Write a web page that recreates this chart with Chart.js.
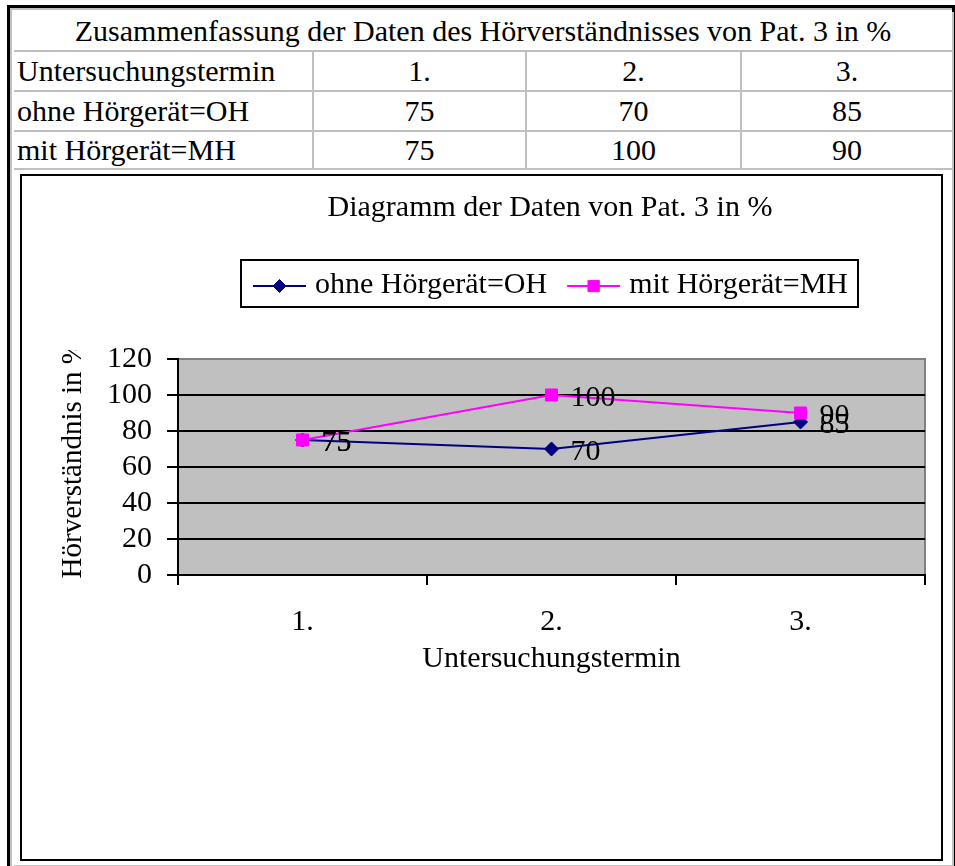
<!DOCTYPE html>
<html>
<head>
<meta charset="utf-8">
<script src="https://cdn.jsdelivr.net/npm/chart.js@4.4.1/dist/chart.umd.min.js"></script>
<style>
html,body{margin:0;padding:0;background:#fff;width:955px;height:866px;overflow:hidden;}
body{position:relative;font-family:"Liberation Serif","Times New Roman",serif;color:#000;}
#frame{position:absolute;left:7px;top:5px;width:948px;height:880px;border:3px solid #000;box-sizing:border-box;}
#grid{position:absolute;left:10px;top:8px;width:942px;height:870px;border-left:2px solid #c0c0c0;border-top:2px solid #c0c0c0;box-sizing:border-box;}
.cell{position:absolute;box-sizing:border-box;border-right:2px solid #c0c0c0;border-bottom:2px solid #c0c0c0;display:flex;align-items:center;justify-content:center;font-family:"Liberation Serif","Times New Roman",serif;font-size:30px;white-space:nowrap;overflow:hidden;}
.cell.left{justify-content:flex-start;padding-left:3px;}
#chartbox{position:absolute;left:20px;top:174px;width:923px;height:687px;border:2px solid #000;box-sizing:border-box;}
#ytitleClip{position:absolute;left:52px;top:350px;width:38px;height:230px;overflow:hidden;z-index:4;}
#ytitle{position:absolute;left:1px;bottom:2px;writing-mode:vertical-rl;transform:rotate(180deg);white-space:nowrap;font-family:"Liberation Serif","Times New Roman",serif;font-size:29px;line-height:36px;}
#c{position:absolute;left:0;top:0;z-index:3;}
</style>
</head>
<body>
<div id="frame"></div>
<div id="grid"></div>
<div id="chartbox"></div>
<div id="ytitleClip"><div id="ytitle"></div></div>
<canvas id="c" width="955" height="866"></canvas>
<script>
// ---- data ----
const categories = ['1.', '2.', '3.'];
const ohValues = [75, 70, 85];
const mhValues = [75, 100, 90];
const seriesNames = ['ohne Hörgerät=OH', 'mit Hörgerät=MH'];
const tableTitle = 'Zusammenfassung der Daten des Hörverständnisses von Pat. 3 in %';
const rowHeader = 'Untersuchungstermin';
const chartTitle = 'Diagramm der Daten von Pat. 3 in %';
const xAxisTitle = 'Untersuchungstermin';
const yAxisTitle = 'Hörverständnis in %';
const yMin = 0, yMax = 120, yStep = 20;

// ---- table ----
const grid = document.getElementById('grid');
const colX = [12, 312, 525, 740, 952];
const rowY = [10, 50, 90, 130, 168];
function cell(text, x0, x1, y0, y1, left) {
  const d = document.createElement('div');
  d.className = 'cell' + (left ? ' left' : '');
  d.style.left = (x0 - 10) + 'px';
  d.style.top = (y0 - 8) + 'px';
  d.style.width = (x1 - x0) + 'px';
  d.style.height = (y1 - y0) + 'px';
  d.textContent = text;
  grid.appendChild(d);
}
cell(tableTitle, colX[0], colX[4], rowY[0], rowY[1], false);
const rows = [[rowHeader].concat(categories), [seriesNames[0]].concat(ohValues), [seriesNames[1]].concat(mhValues)];
rows.forEach((r, ri) => {
  r.forEach((v, ci) => cell(String(v), colX[ci], colX[ci + 1], rowY[ri + 1], rowY[ri + 2], ci === 0));
});
cell('', colX[0], colX[4], rowY[4], 865, false);
document.getElementById('ytitle').textContent = yAxisTitle;

// ---- chart ----
const FONT = '"Liberation Serif", "Times New Roman", serif';
Chart.defaults.font.family = FONT;
Chart.defaults.color = '#000';

const plotBg = {
  id: 'plotBg',
  beforeDraw(chart) {
    const { ctx, chartArea: a } = chart;
    ctx.save();
    ctx.fillStyle = '#C0C0C0';
    ctx.fillRect(a.left, a.top, a.right - a.left, a.bottom - a.top);
    ctx.strokeStyle = '#808080';
    ctx.lineWidth = 2;
    ctx.beginPath();
    ctx.moveTo(a.left, a.top);
    ctx.lineTo(a.right, a.top);
    ctx.lineTo(a.right, a.bottom);
    ctx.stroke();
    ctx.restore();
  }
};

const valueLabels = {
  id: 'valueLabels',
  afterDatasetsDraw(chart) {
    const ctx = chart.ctx;
    ctx.save();
    ctx.font = '30px ' + FONT;
    ctx.fillStyle = '#000';
    ctx.textAlign = 'left';
    ctx.textBaseline = 'middle';
    chart.data.datasets.forEach((ds, i) => {
      const meta = chart.getDatasetMeta(i);
      meta.data.forEach((pt, j) => {
        ctx.fillText(String(ds.data[j]), pt.x + 19, pt.y + 3);
      });
    });
    ctx.restore();
  }
};

const titleAndLegend = {
  id: 'titleAndLegend',
  afterDraw(chart) {
    const ctx = chart.ctx;
    ctx.save();
    ctx.font = '30px ' + FONT;
    ctx.fillStyle = '#000';
    ctx.textBaseline = 'middle';
    ctx.textAlign = 'center';
    ctx.fillText(chartTitle, 550, 208);

    const left = 240, top = 259, h = 49, midY = 285;
    ctx.textAlign = 'left';
    let x = left + 13;
    const radii = [6.5, 8];
    chart.data.datasets.forEach((ds, i) => {
      ctx.strokeStyle = ds.borderColor;
      ctx.fillStyle = ds.borderColor;
      ctx.lineWidth = 2;
      ctx.beginPath();
      ctx.moveTo(x, midY + 1);
      ctx.lineTo(x + 53, midY + 1);
      ctx.stroke();
      ctx.lineWidth = 1;
      Chart.helpers.drawPoint(ctx, { pointStyle: ds.pointStyle, rotation: 0, radius: radii[i], borderWidth: 1 }, x + 26.5, midY + 1);
      ctx.fillStyle = '#000';
      ctx.fillText(ds.label, x + 62, midY);
      x = x + 62 + ctx.measureText(ds.label).width + 20;
    });
    const right = Math.max(x - 20 + 11, 859);
    ctx.strokeStyle = '#000';
    ctx.lineWidth = 2;
    ctx.strokeRect(left + 1, top + 1, right - left - 2, h - 2);
    ctx.restore();
  }
};

new Chart(document.getElementById('c'), {
  type: 'line',
  data: {
    labels: categories,
    datasets: [
      { label: seriesNames[0], data: ohValues, borderColor: '#000080', backgroundColor: '#000080',
        pointStyle: 'rectRot', pointRadius: 7, pointHoverRadius: 7, pointBorderWidth: 1, borderWidth: 2,
        tension: 0, fill: false, order: 2 },
      { label: seriesNames[1], data: mhValues, borderColor: '#FF00FF', backgroundColor: '#FF00FF',
        pointStyle: 'rect', pointRadius: 8.5, pointHoverRadius: 8.5, pointBorderWidth: 1, borderWidth: 2,
        tension: 0, fill: false, order: 1 }
    ]
  },
  options: {
    responsive: false,
    animation: false,
    devicePixelRatio: 1,
    events: [],
    layout: { padding: { left: 60, right: 30, top: 359, bottom: 189 } },
    plugins: {
      legend: { display: false },
      tooltip: { enabled: false },
      title: { display: false }
    },
    scales: {
      x: {
        type: 'category',
        offset: true,
        grid: { offset: true, drawOnChartArea: false, drawTicks: true, tickLength: 10, color: '#000', lineWidth: 2 },
        border: { display: true, color: '#000', width: 2 },
        ticks: { font: { size: 30 }, color: '#000', padding: 19, maxRotation: 0, autoSkip: false },
        title: { display: true, text: xAxisTitle, font: { size: 30 }, color: '#000', padding: 0 },
        afterFit(s) { s.height = 102; }
      },
      y: {
        min: yMin, max: yMax,
        ticks: { stepSize: yStep, font: { size: 30 }, color: '#000', padding: 15, autoSkip: false },
        grid: { color: c => (c.tick && c.tick.value === yMax) ? '#808080' : '#000', tickColor: '#000', lineWidth: 2, tickLength: 11 },
        border: { display: true, color: '#000', width: 2 },
        afterFit(s) { s.width = 118; }
      }
    }
  },
  plugins: [plotBg, valueLabels, titleAndLegend]
});
</script>
</body>
</html>
